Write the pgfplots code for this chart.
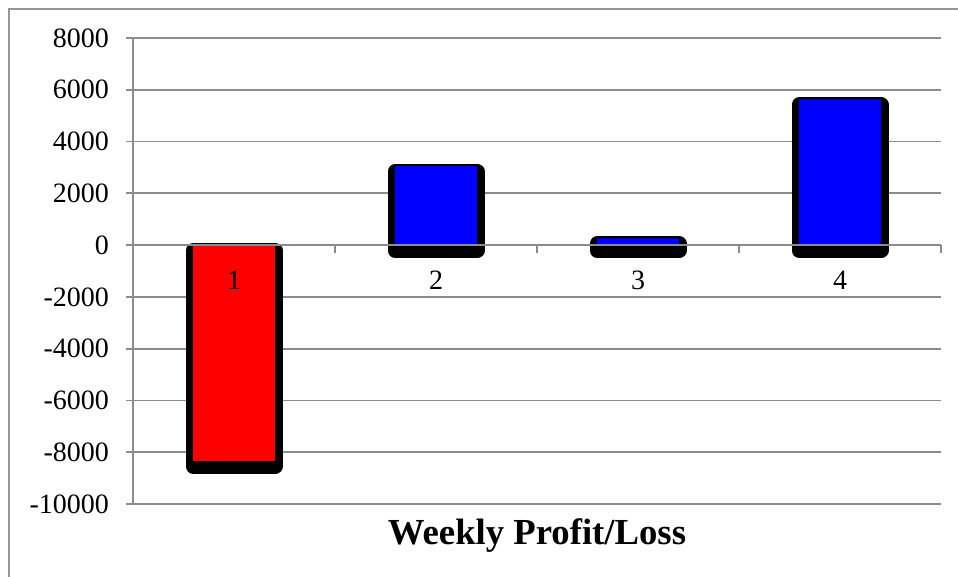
\documentclass[border=0pt]{standalone}
\usepackage{pgfplots}
\pgfplotsset{compat=1.18}
\usepackage{fontspec}
\setmainfont{Liberation Serif}
\definecolor{gridgray}{RGB}{140,140,140}
\definecolor{framegray}{RGB}{150,150,150}
\begin{document}
\begin{tikzpicture}
\useasboundingbox (0,0) rectangle (479pt,288.5pt);
\begin{scope}
\clip (0,0) rectangle (479pt,288.5pt);
\draw[framegray, line width=0.8pt] (4.5pt,-20pt) -- (4.5pt,284pt) -- (500pt,284pt);
\end{scope}
\begin{axis}[
  at={(66.5pt,36.5pt)}, anchor=south west,
  scale only axis, width=404pt, height=233pt,
  xmin=0.5, xmax=4.5, ymin=-10000, ymax=8000,
  axis x line*=middle, axis y line*=left,
  axis line style={gridgray, line width=0.9pt},
  ytick={-10000,-8000,-6000,-4000,-2000,0,2000,4000,6000,8000},
  scaled y ticks=false,
  xtick={1,2,3,4},
  xticklabels={},
  ymajorgrids, grid style={gridgray, line width=0.9pt},
  major x tick style={draw=none},
  minor xtick={1.5,2.5,3.5,4.5},
  minor x tick style={gridgray, line width=0.9pt},
  y tick style={gridgray, line width=0.9pt},
  tick align=outside,
  major tick length=3.5pt,
  minor tick length=4pt,
  /pgf/number format/assume math mode=true,
  /pgf/number format/1000 sep={},
  ticklabel style={font=\fontsize{14}{16}\selectfont},
  yticklabel style={xshift=-5pt},
  xlabel={Weekly Profit/Loss},
  xlabel style={at={(axis description cs:0.5,0)}, anchor=base, yshift=-20.5pt, font=\bfseries\fontsize{18.35}{20}\selectfont},
]
\addplot[ybar, bar width=41pt, bar shift=0pt, fill=black, draw=black, line width=7.5pt, line join=round, yshift=-2.75pt] coordinates {(1,-8330) (2,3060) (3,260) (4,5630)};
\addplot[ybar, bar width=41pt, bar shift=0pt, fill=red, draw=none] coordinates {(1,-8330)};
\addplot[ybar, bar width=41pt, bar shift=0pt, fill=blue, draw=none] coordinates {(2,3060) (3,260) (4,5630)};
\draw[gridgray, line width=0.9pt] (axis cs:0.5,0) -- (axis cs:4.5,0);
\addplot[only marks, mark=none, point meta=x, nodes near coords,
  every node near coord/.append style={anchor=center, yshift=-17.5pt, font=\fontsize{14}{16}\selectfont, /pgf/number format/assume math mode=true}]
  coordinates {(1,0) (2,0) (3,0) (4,0)};
\end{axis}
\end{tikzpicture}
\end{document}
